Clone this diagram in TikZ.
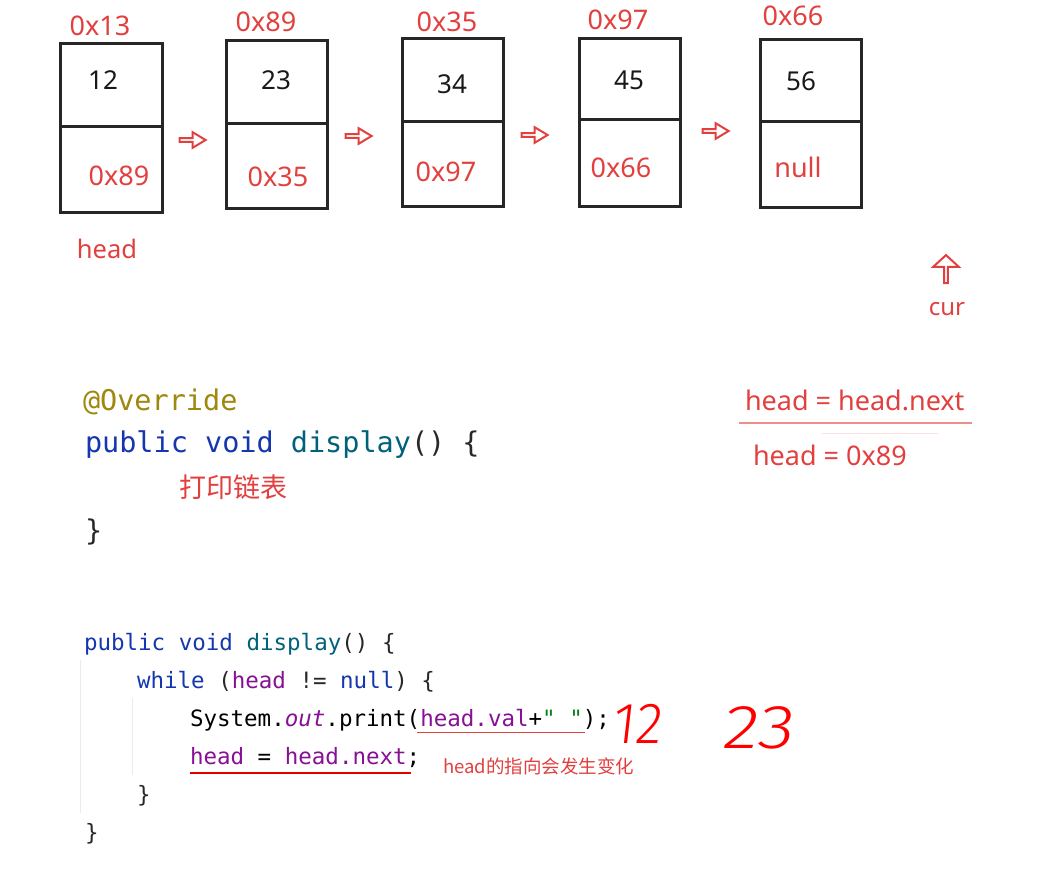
\documentclass[tikz,border=0pt]{standalone}
\usepackage{fontspec}
\setmainfont{Noto Sans}
\setmonofont{DejaVu Sans Mono}
\newfontfamily\cjk{Noto Sans CJK SC}
\newfontfamily\handfont[FakeSlant=0.12]{Fira Sans Light}
\usetikzlibrary{shapes.arrows}
\definecolor{lblred}{RGB}{226,64,62}
\definecolor{kw}{RGB}{20,55,175}
\definecolor{fn}{RGB}{0,98,122}
\definecolor{annot}{RGB}{158,136,13}
\definecolor{pu}{RGB}{135,16,148}
\definecolor{gr}{RGB}{6,125,23}
\definecolor{dk}{RGB}{40,40,40}

\begin{document}
\begin{tikzpicture}[x=1pt,y=-1pt,every node/.style={inner sep=0pt, outer sep=0pt},
  cell/.style={draw=black!85, line width=3pt},
  addr/.style={text=lblred, font=\fontsize{27}{30}\selectfont},
  val/.style={text=black!90, font=\fontsize{26}{30}\selectfont},
  blockarrow/.style={single arrow, draw=lblred, line width=2pt, minimum width=15.5pt, minimum height=26pt, single arrow head extend=3pt, single arrow tip angle=62},
  code1/.style={anchor=base west, font=\ttfamily\fontsize{28.5}{34}\selectfont},
  code2/.style={anchor=base west, font=\ttfamily\fontsize{22.5}{27}\selectfont},
  note/.style={text=lblred, font=\fontsize{27}{30}\selectfont}]

\fill[white] (0,0) rectangle (1059,878);
\useasboundingbox (0,0) rectangle (1059,878);

\draw[cell] (60,43) rectangle (162,212);
\draw[cell] (60,126) -- (162,126);
\draw[cell] (226,40) rectangle (327,208);
\draw[cell] (226,123) -- (327,123);
\draw[cell] (402,38) rectangle (503,206);
\draw[cell] (402,121) -- (503,121);
\draw[cell] (579,38) rectangle (680,206);
\draw[cell] (579,119) -- (680,119);
\draw[cell] (760,39) rectangle (861,207);
\draw[cell] (760,121) -- (861,121);

\node[addr] (a1) at (100,26) {0x13};
\node[addr] (a2) at (266,22) {0x89};
\node[addr] (a3) at (447,22) {0x35};
\node[addr] (a4) at (618,20) {0x97};
\node[addr] (a5) at (793,16) {0x66};

\node[val] (v1) at (103,80) {12};
\node[val] (v2) at (276,80) {23};
\node[val] (v3) at (452,84) {34};
\node[val] (v4) at (629,80) {45};
\node[val] (v5) at (801,81) {56};

\node[addr] (n1) at (119,176) {0x89};
\node[addr] (n2) at (278,177) {0x35};
\node[addr] (n3) at (446,172) {0x97};
\node[addr] (n4) at (621,168) {0x66};
\node[addr] (n5) at (798,167) {null};

\node[blockarrow] (arr1) at (191,140) {};
\node[blockarrow] (arr2) at (357,136) {};
\node[blockarrow] (arr3) at (533,135) {};
\node[blockarrow] (arr4) at (714,131) {};

\node[addr, font=\fontsize{25.5}{30}\selectfont] (head) at (107,249) {head};
\node[blockarrow, rotate=90, minimum width=25.5pt, minimum height=28pt, single arrow head extend=5.5pt, single arrow tip angle=95] (uparr) at (946,270) {};
\node[addr, font=\fontsize{24}{28}\selectfont] (cur) at (947,309) {cur};

\node[code1] (ovr) at (83,410) {\textcolor{annot}{@Override}};
\node[code1] (sig1) at (85,452) {\textcolor{kw}{public void} \textcolor{fn}{display}\textcolor{dk}{() \{}};
\node[note, font=\cjk\fontsize{27}{30}\selectfont] (todo) at (233,487) {打印链表};
\node[code1] (end1) at (85,540) {\textcolor{dk}{\}}};

\node[note, anchor=base west] (asg) at (745,410) {head = head.next};
\draw[lblred!60, line width=1.5pt] (739,423) -- (972,423);
\draw[lblred!15, line width=1pt] (822,433) -- (938,433);
\node[note, anchor=base west] (res) at (753,465) {head = 0x89};

\draw[black!8, line width=1pt] (80,660) -- (80,813);
\draw[black!8, line width=1pt] (132,698) -- (132,775);

\node[code2] (sig2) at (84,650) {\textcolor{kw}{public void} \textcolor{fn}{display}\textcolor{dk}{() \{}};
\node[code2] (loop) at (137,688) {\textcolor{kw}{while} \textcolor{dk}{(}\textcolor{pu}{head} \textcolor{dk}{!=} \textcolor{kw}{null}\textcolor{dk}{) \{}};
\node[code2] (prt) at (190,726) {System.\textcolor{pu}{\itshape out}.print(\textcolor{pu}{head.val}+\textcolor{gr}{" "});};
\node[code2] (step) at (190,764) {\textcolor{pu}{head} = \textcolor{pu}{head.next};};
\node[code2] (end2) at (137,802) {\textcolor{dk}{\}}};
\node[code2] (end3) at (85,840) {\textcolor{dk}{\}}};

\draw[lblred, line width=1pt] (417,732) -- (585,732);
\draw[red!90!black, line width=2pt] (190,773) -- (411,773);
\node[note, anchor=west, font=\cjk\fontsize{18.5}{22}\selectfont] (chg) at (443,766) {head的指向会发生变化};

\node[text=red, font=\handfont\fontsize{58}{60}\selectfont] (hw1) at (636,724) {\scalebox{0.95}[1]{12}};
\node[text=red, font=\handfont\fontsize{62}{64}\selectfont] (hw2) at (757,728) {\scalebox{1.2}[1]{23}};
\end{tikzpicture}
\end{document}
